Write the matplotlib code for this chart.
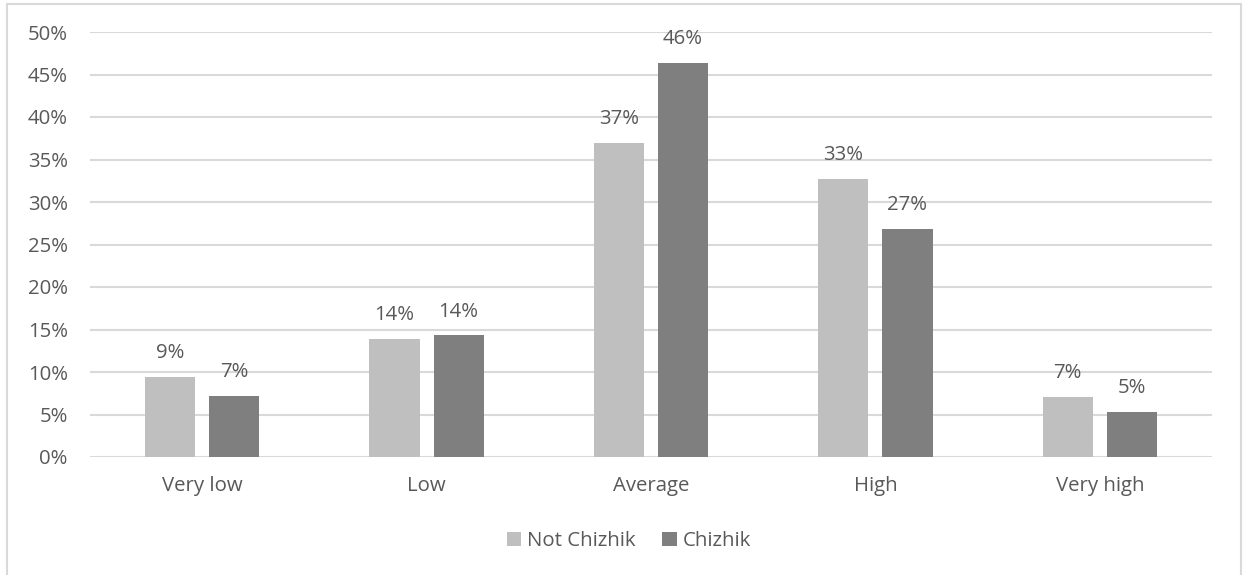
import numpy as np
import matplotlib.pyplot as plt
from matplotlib.patches import Rectangle

categories = ["Very low", "Low", "Average", "High", "Very high"]
not_chizhik = [9.4, 13.9, 37.0, 32.7, 7.1]
chizhik = [7.2, 14.3, 46.4, 26.8, 5.3]
series_names = ["Not Chizhik", "Chizhik"]
yticks = [0, 5, 10, 15, 20, 25, 30, 35, 40, 45, 50]

plt.rcParams['font.family'] = ['Open Sans', 'DejaVu Sans']
txt = '#595959'
fs = 14.7

fig = plt.figure(figsize=(12.43, 5.75), dpi=100)
# outer chart frame
fig.patches.append(Rectangle((7/1243, -0.01), 1234/1243, 1 - 4/575 + 0.01,
                             transform=fig.transFigure, fill=False,
                             edgecolor='#D9D9D9', linewidth=1.5))
ax = fig.add_axes([90/1243, 1 - 457/575, 1122/1243, 425/575])

x = np.arange(len(categories))
w = 0.223
off = 0.143
b1 = ax.bar(x - off, not_chizhik, w, color='#BFBFBF', label=series_names[0], zorder=3)
b2 = ax.bar(x + off, chizhik, w, color='#7F7F7F', label=series_names[1], zorder=3)

for bars, vals in ((b1, not_chizhik), (b2, chizhik)):
    for b, v in zip(bars, vals):
        ax.annotate("%d%%" % round(v), (b.get_x() + b.get_width()/2, v),
                    xytext=(0, 10), textcoords='offset points',
                    ha='center', va='bottom', fontsize=fs, color=txt)

ax.set_xlim(-0.5, len(categories) - 0.5)
ax.set_ylim(0, 50)
ax.set_yticks(yticks)
ax.set_yticklabels(["%d%%" % t for t in yticks])
ax.set_xticks(x)
ax.set_xticklabels(categories)
ax.tick_params(axis='both', length=0, labelsize=fs, labelcolor=txt)
ax.tick_params(axis='y', pad=16)
ax.tick_params(axis='x', pad=14)
ax.yaxis.grid(True, color='#D9D9D9', linewidth=1.5, zorder=0)
for s in ax.spines.values():
    s.set_visible(False)

fig.legend(handles=[b1, b2], loc='center', bbox_to_anchor=(629/1243, 1 - 541/575),
           ncol=2, frameon=False, fontsize=fs, labelcolor=txt, handlelength=0.7,
           handleheight=0.7, handletextpad=0.3, columnspacing=1.3)

fig.savefig('out.png', dpi=100)
